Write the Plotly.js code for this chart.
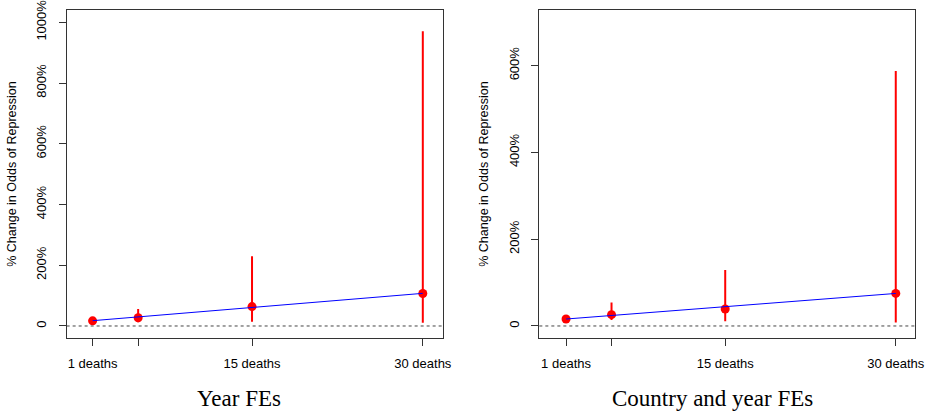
<!DOCTYPE html>
<html><head><meta charset="utf-8">
<script src="https://cdn.plot.ly/plotly-3.0.1.min.js"></script>
<style>html,body{margin:0;padding:0;background:#fff}#chart{width:927px;height:414px}</style>
</head><body><div id="chart"></div>
<script>
const deaths = [1, 5, 15, 30];
const tickLabels = ['1 deaths', '', '15 deaths', '30 deaths'];
const yTickVals1 = [0, 200, 400, 600, 800, 1000];
const yTickText1 = ['0', '200%', '400%', '600%', '800%', '1000%'];
const yTickVals2 = [0, 200, 400, 600];
const yTickText2 = ['0', '200%', '400%', '600%'];
const panelTitles = ['Year FEs', 'Country and year FEs'];
const yTitle = '% Change in Odds of Repression';

// Year FEs
const yearEst = [17, 27, 64, 107];
const yearLo  = [11, 12, 14, 11];
const yearHi  = [23, 56, 230, 971];
const yearFit = [17.5, 30, 61, 107.5];
// Country and year FEs
const cyEst = [16, 26, 39, 75];
const cyLo  = [11, 14, 11, 8];
const cyHi  = [22, 54, 129, 588];
const cyFit = [16, 24, 44.5, 75];

function pts(est, lo, hi, xa, ya) {
  return {
    x: deaths, y: est, xaxis: xa, yaxis: ya, type: 'scatter', mode: 'markers',
    marker: {color: '#ff0000', size: 9},
    error_y: {type: 'data', symmetric: false,
      array: hi.map((h, i) => h - est[i]),
      arrayminus: est.map((e, i) => e - lo[i]),
      color: '#ff0000', thickness: 2, width: 0},
    showlegend: false, hoverinfo: 'skip'
  };
}
function fit(vals, xa, ya) {
  return {x: deaths, y: vals, xaxis: xa, yaxis: ya, type: 'scatter', mode: 'lines',
    line: {color: '#0000ff', width: 1}, showlegend: false, hoverinfo: 'skip'};
}

const font = {family: 'Liberation Sans, Arial, sans-serif', size: 13, color: '#000'};
const titleFont = {family: 'Liberation Sans, Arial, sans-serif', size: 12.5, color: '#000'};
const xBase = {
  range: [-1.28, 31.75], tickvals: deaths, ticktext: tickLabels,
  showline: true, mirror: true, linecolor: '#333', linewidth: 1,
  ticks: 'outside', ticklen: 7, tickcolor: '#333', showgrid: false, zeroline: false,
  tickfont: font, ticklabelstandoff: 6, ticklabeloverflow: 'allow'
};
const yBase = {
  showline: true, mirror: true, linecolor: '#333', linewidth: 1,
  ticks: 'outside', ticklen: 7, tickcolor: '#333', showgrid: false, zeroline: false,
  tickangle: -90, tickfont: font, ticklabelstandoff: 7, ticklabeloverflow: 'allow',
  title: {text: yTitle, font: titleFont, standoff: 15}
};

const layout = {
  width: 927, height: 414, margin: {l: 0, r: 0, t: 0, b: 0},
  paper_bgcolor: '#fff', plot_bgcolor: '#fff', showlegend: false,
  xaxis: Object.assign({}, xBase, {domain: [0.0719, 0.4776], anchor: 'y'}),
  yaxis: Object.assign({}, yBase, {domain: [0.1836, 0.9758], anchor: 'x',
    range: [-39.5, 1040.5], tickvals: yTickVals1, ticktext: yTickText1}),
  xaxis2: Object.assign({}, xBase, {domain: [0.5818, 0.9874], anchor: 'y2', range: [-1.35, 31.72]}),
  yaxis2: Object.assign({}, yBase, {domain: [0.1836, 0.9758], anchor: 'x2',
    range: [-27.7, 728.3], tickvals: yTickVals2, ticktext: yTickText2}),
  annotations: [
    {text: panelTitles[0], xref: 'paper', yref: 'paper', x: 239 / 927, y: 1 - 398 / 414,
     xanchor: 'center', yanchor: 'middle', showarrow: false,
     font: {family: 'Liberation Serif, Times New Roman, serif', size: 23, color: '#000'}},
    {text: panelTitles[1], xref: 'paper', yref: 'paper', x: 712 / 927, y: 1 - 398 / 414,
     xanchor: 'center', yanchor: 'middle', showarrow: false,
     font: {family: 'Liberation Serif, Times New Roman, serif', size: 23, color: '#000'}}
  ],
  shapes: [
    {type: 'line', xref: 'x domain', yref: 'y', x0: 0, x1: 1, y0: 0, y1: 0,
     line: {color: '#444', width: 1, dash: 'dot'}, layer: 'below'},
    {type: 'line', xref: 'x2 domain', yref: 'y2', x0: 0, x1: 1, y0: 0, y1: 0,
     line: {color: '#444', width: 1, dash: 'dot'}, layer: 'below'}
  ]
};

const data = [
  pts(yearEst, yearLo, yearHi, 'x', 'y'), fit(yearFit, 'x', 'y'),
  pts(cyEst, cyLo, cyHi, 'x2', 'y2'), fit(cyFit, 'x2', 'y2')
];
Plotly.newPlot('chart', data, layout, {displayModeBar: false, staticPlot: true});
</script></body></html>
